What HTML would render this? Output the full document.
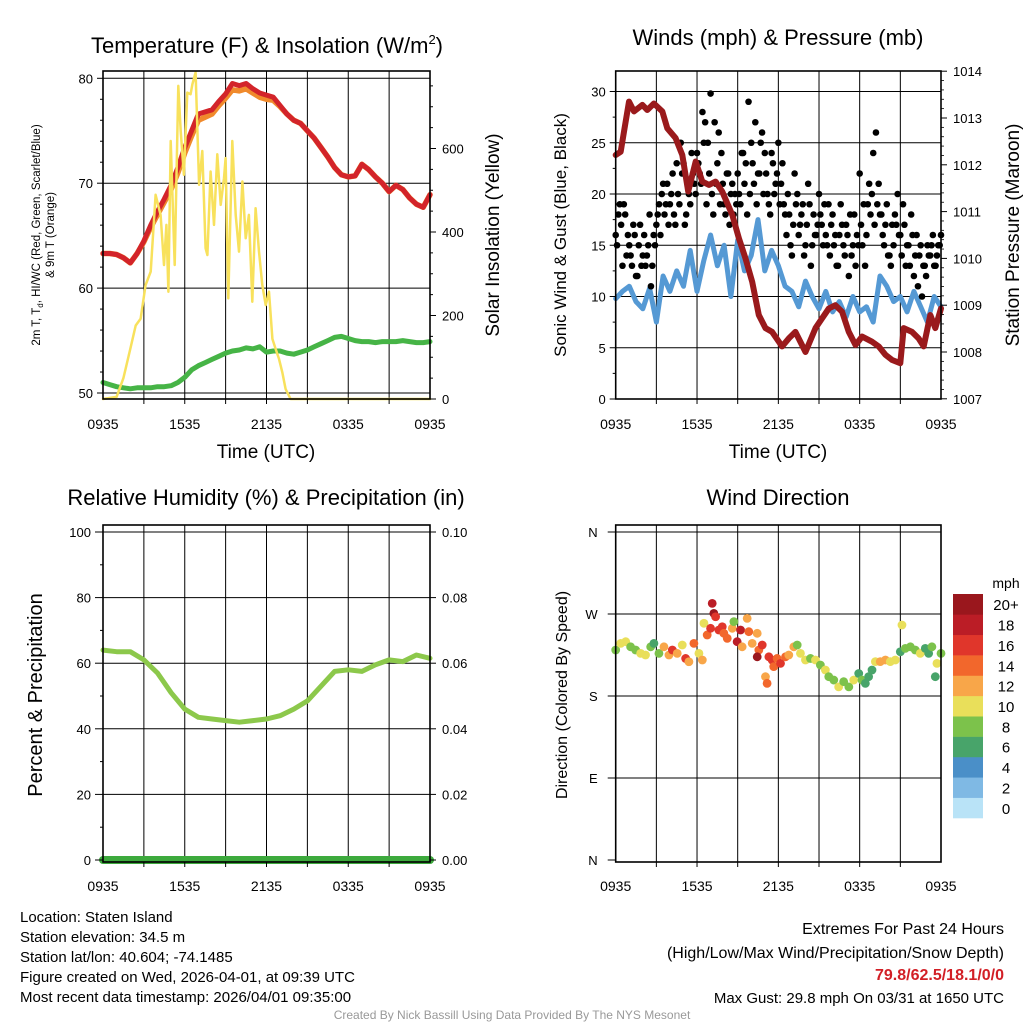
<!DOCTYPE html>
<html><head><meta charset="utf-8"><style>
html,body{margin:0;padding:0;background:#fff;}
svg{display:block;font-family:"Liberation Sans",Arial,sans-serif;}
</style></head><body>
<svg id="chart" width="1024" height="1024" viewBox="0 0 1024 1024" xmlns="http://www.w3.org/2000/svg">
<g id="grid"></g><g id="marks"></g><g id="axes"></g>
<g id="texts" font-size="13" fill="#000">
<text x="267" y="53" font-size="22" text-anchor="middle">Temperature (F) &amp; Insolation (W/m<tspan font-size="13" dy="-9">2</tspan><tspan dy="9">)</tspan></text>
<text x="778" y="45" font-size="22" text-anchor="middle">Winds (mph) &amp; Pressure (mb)</text>
<text x="266" y="505" font-size="22" text-anchor="middle">Relative Humidity (%) &amp; Precipitation (in)</text>
<text x="778" y="505" font-size="22" text-anchor="middle">Wind Direction</text>
<text transform="translate(40,235) rotate(-90)" font-size="11.5" text-anchor="middle">2m T, T<tspan font-size="8" dy="3">d</tspan><tspan dy="-3">, HI/WC (Red, Green, Scarlet/Blue)</tspan></text>
<text transform="translate(54,235) rotate(-90)" font-size="11.5" text-anchor="middle">&amp; 9m T (Orange)</text>
<text transform="translate(499,235) rotate(-90)" font-size="19" text-anchor="middle">Solar Insolation (Yellow)</text>
<text transform="translate(566,235) rotate(-90)" font-size="17" text-anchor="middle">Sonic Wind &amp; Gust (Blue, Black)</text>
<text transform="translate(1019,235) rotate(-90)" font-size="19" text-anchor="middle">Station Pressure (Maroon)</text>
<text transform="translate(42,695) rotate(-90)" font-size="20" text-anchor="middle">Percent &amp; Precipitation</text>
<text transform="translate(567,695) rotate(-90)" font-size="16" text-anchor="middle">Direction (Colored By Speed)</text>
<text x="266" y="458" font-size="19" text-anchor="middle">Time (UTC)</text>
<text x="778" y="458" font-size="19" text-anchor="middle">Time (UTC)</text>
<text x="1006" y="588" font-size="14" text-anchor="middle">mph</text>
<g font-size="15">
<text x="20" y="922">Location: Staten Island</text>
<text x="20" y="942">Station elevation: 34.5 m</text>
<text x="20" y="962">Station lat/lon: 40.604; -74.1485</text>
<text x="20" y="982">Figure created on Wed, 2026-04-01, at 09:39 UTC</text>
<text x="20" y="1002">Most recent data timestamp: 2026/04/01 09:35:00</text>
</g>
<g font-size="16" text-anchor="end">
<text x="1004" y="934">Extremes For Past 24 Hours</text>
<text x="1004" y="958">(High/Low/Max Wind/Precipitation/Snow Depth)</text>
<text x="1004" y="980" fill="#d21f26" font-weight="bold">79.8/62.5/18.1/0/0</text>
<text x="1004" y="1003" font-size="15">Max Gust: 29.8 mph On 03/31 at 1650 UTC</text>
</g>
<text x="512" y="1019" font-size="12" fill="#999" text-anchor="middle">Created By Nick Bassill Using Data Provided By The NYS Mesonet</text>
</g>
</svg>
<script>
// ---- data ----
const timeLabels = ["0935","1535","2135","0335","0935"];
const tempF = [63.3,63.3,63.2,62.9,62.4,63.3,64.5,66.0,67.3,68.5,69.8,71.5,73.4,75.0,76.6,76.8,77.0,77.8,78.5,79.5,79.3,79.5,79.0,78.6,78.4,78.2,77.4,76.6,76.0,75.7,75.0,74.3,73.4,72.5,71.5,70.8,70.6,70.7,71.8,71.3,70.6,70.0,69.2,69.8,69.4,68.6,68.0,67.7,68.9];
const temp9mF = [63.3,63.3,63.2,62.9,62.4,63.3,64.4,65.8,67.0,68.2,69.4,71.0,72.9,74.5,76.0,76.3,76.6,77.4,78.1,78.9,78.8,79.0,78.6,78.2,78.0,77.9,77.3,76.6,76.0,75.7,75.0,74.3,73.4,72.5,71.5,70.8,70.6,70.7,71.8,71.3,70.6,70.0,69.2,69.8,69.4,68.6,68.0,67.7,68.9];
const dewF = [51.0,50.8,50.6,50.5,50.4,50.5,50.5,50.5,50.6,50.6,50.7,51.0,51.5,52.2,52.6,52.9,53.2,53.5,53.8,54.0,54.1,54.3,54.2,54.4,53.9,54.0,54.0,53.8,53.7,53.9,54.1,54.4,54.7,55.0,55.3,55.4,55.2,55.0,54.9,54.9,54.8,54.9,54.9,54.9,55.0,54.9,54.8,54.8,54.9];
const solarHours = [0,1.0,1.5,2.0,2.4,2.76,3.13,3.5,3.86,4.23,4.48,4.65,4.8,4.97,5.26,5.53,5.7,5.94,6.19,6.43,6.56,6.8,7.05,7.29,7.53,7.66,7.9,8.15,8.39,8.64,8.88,9.0,9.2,9.49,9.74,9.98,10.23,10.47,10.71,10.96,11.2,11.45,11.69,11.94,12.18,12.43,12.67,12.92,13.16,13.4,13.77,24];
const solarW = [0,5,50,120,176,192,273,305,489,441,321,417,257,618,321,750,642,537,734,730,754,782,513,594,361,345,545,417,586,465,529,577,241,618,441,353,521,385,441,233,457,353,273,225,257,144,120,96,64,24,0,0];
const windMph = [9.8,10.5,11.0,9.5,8.8,10.8,7.5,12.0,10.5,12.5,11.0,14.5,10.5,13.5,16.0,13.0,15.0,10.0,15.5,12.5,14.0,17.5,12.5,14.5,13.0,11.0,10.5,9.0,11.5,10.0,8.8,10.5,8.5,9.5,8.0,10.0,8.5,9.0,7.5,12.0,11.0,9.5,10.0,8.5,10.5,9.0,7.5,10.0,9.0];
const gustMph = [16,18,17,19,14,15,13,16,12,17,14,13,15,11,16,
17,19,20,18,21,19,22,17,20,25,23,18,20,24,21,
24,22,28,27,25,29.8,18,21,26,24,19,22,17,21,20,
22,19,24,23,29,25,21,19,22,26,24,20,18,23,21,
25,21,19,16,18,14,22,20,17,19,15,21,13,18,16,
20,17,19,15,14,18,16,13,19,15,17,12,14,18,16,
22,15,13,19,18,24,26,21,18,15,19,14,17,18,20,
16,19,13,15,18,12,16,14,10,13,15,14,16,13,15,16];
const gustMphB = [15,19,13,18,16,14,17,12,15,13,16,14,18,13,15,
18,16,21,19,17,20,18,23,19,22,17,21,19,22,20,
23,21,25,19,22,20,27,23,19,21,18,22,20,18,19,
20,24,21,18,20,23,27,22,25,20,22,19,24,20,22,
19,23,18,20,15,17,19,16,18,14,17,19,15,16,17,
18,15,16,19,17,15,13,16,17,14,16,18,15,13,15,
17,19,16,21,20,17,19,18,16,17,14,13,15,17,16,
14,17,15,13,16,14,11,15,13,12,14,15,13,14,15];
const pressHours = [0,0.37,0.61,0.98,1.35,1.97,2.33,2.82,3.44,3.81,4.42,4.91,5.35,5.9,6.39,6.88,7.37,7.86,8.6,9.09,9.58,10.07,10.56,11.05,11.54,12.28,12.77,13.26,14.0,14.74,15.23,15.72,16.21,16.7,17.2,17.69,18.18,18.91,19.4,19.9,20.39,21.0,21.25,21.86,22.35,22.72,23.21,23.58,24];
const pressMb = [1012.21,1012.28,1012.71,1013.35,1013.14,1013.28,1013.17,1013.31,1013.14,1012.78,1012.57,1012.21,1011.43,1012.07,1011.64,1011.57,1011.64,1011.43,1010.93,1010.43,1010.0,1009.5,1008.79,1008.51,1008.43,1008.12,1008.29,1008.43,1008.0,1008.51,1008.72,1008.93,1009.0,1008.86,1008.43,1008.15,1008.33,1008.22,1008.12,1007.94,1007.83,1007.76,1008.51,1008.43,1008.29,1008.12,1008.79,1008.51,1008.93];
const rhPct = [64,63.5,63.5,61,57,51,46,43.5,43,42.5,42,42.5,43,44,46,48.5,53,57.5,58,57.5,59.5,61,60.5,62.5,61.5];
const precipIn = [0,0,0,0,0,0,0,0,0,0,0,0,0,0,0,0,0,0,0,0,0,0,0,0,0];
const dirHours = [0,0.37,0.74,1.1,1.47,1.84,2.2,2.58,2.82,3.19,3.56,3.93,4.18,4.54,4.91,5.16,5.4,5.77,6.14,6.39,6.51,6.75,7.0,7.12,7.24,7.37,7.61,7.86,7.98,8.23,8.6,8.72,8.96,9.21,9.33,9.7,9.82,10.07,10.44,10.56,10.81,10.44,11.05,11.17,11.3,11.54,11.66,11.91,12.16,12.53,12.77,13.14,13.39,13.63,14.0,14.37,14.74,15.1,15.47,15.72,16.09,16.45,16.82,17.2,17.56,17.93,18.17,18.42,18.66,18.91,19.16,19.52,19.9,20.26,20.63,21.0,21.12,21.37,21.74,22.1,22.47,22.84,23.09,23.33,23.58,23.7,24];
const dirDeg = [230.5,237.8,239.6,234,230.5,226.8,225,234,237.8,226.8,234,225,230.5,226.8,236,221.2,217.6,237.8,226.8,219.5,259.8,247,254.3,281.7,270.7,267,252.4,256,248.8,243.3,254.3,261.6,239.6,252.4,234,265.2,250.6,237.8,248.8,230.5,236,223,201.2,193.9,223,219.5,212.2,221.2,215.8,223,225,234,236,226.8,219.5,221.2,219.5,214,208.5,201.2,197.5,190,195.7,190,197.5,204.7,197.5,193.9,201.2,208.5,217.7,217.7,219.5,217.7,219.5,228.6,257.9,232.3,234,230.5,226.8,232.3,226.8,234,201.2,215.8,226.8];
const dirSpeed = [9,10,10,9,8,10,10,8,7,9,12,13,16,13,10,17,12,15,10,12,11,15,17,18,20,16,17,16,15,14,12,8,19,18,12,12,14,13,12,14,17,20,12,14,16,17,14,15,16,14,12,12,8,10,10,9,10,9,10,8,9,10,8,9,10,7,8,6,7,6,10,12,12,10,10,7,10,8,8,9,10,6,7,8,7,10,8];
const speedBins = ["0","2","4","6","8","10","12","14","16","18","20+"];
const binColors = ["#b9e3f7","#7fb9e4","#4a8fc8","#48a46a","#7cc24b","#e9df5a","#f8a649","#f2672c","#e0362b","#bb1d26","#9a171d"];

// ---- scales ----
const NS="http://www.w3.org/2000/svg";
const P1={x0:103,x1:430,top:71,bot:399}, P2={x0:615.7,x1:941,top:71,bot:399};
const P3={x0:103,x1:430,top:525,bot:862}, P4={x0:615.7,x1:941,top:525,bot:862};
const xs=(P,h)=>P.x0+h/24*(P.x1-P.x0);
const yT=v=>393-(v-50)*10.49, yS=v=>399-v/200*83.5;
const yW=v=>399-v*10.25, yP=v=>352-(v-1008)*46.8;
const yR=v=>860-v*3.28, yPr=v=>860-v/0.1*328;
const yD=d=>860-d*82/90;
const G=document.getElementById('grid'), M=document.getElementById('marks'), A=document.getElementById('axes');
function mk(parent,tag,attrs){const e=document.createElementNS(NS,tag);for(const k in attrs)e.setAttribute(k,attrs[k]);parent.appendChild(e);return e;}
function line(parent,x1,y1,x2,y2,stroke,w){return mk(parent,'line',{x1,y1,x2,y2,stroke,'stroke-width':w});}
function txt(parent,x,y,s,anchor,size){const t=mk(parent,'text',{x,y,'text-anchor':anchor,'font-size':size||13});t.textContent=s;return t;}
function path(parent,xsArr,ysArr,stroke,w){let d='';for(let i=0;i<xsArr.length;i++)d+=(i?'L':'M')+xsArr[i].toFixed(1)+','+ysArr[i].toFixed(1);return mk(parent,'path',{d,fill:'none',stroke,'stroke-width':w,'stroke-linejoin':'round','stroke-linecap':'round'});}
const idxH=(arr)=>arr.map((_,i)=>i*24/(arr.length-1));

function frame(P,name,hlines,labOff){
  for(let k=1;k<8;k++){const x=xs(P,k*3);const l=line(G,x,P.top,x,P.bot,'#000',1);
    
    
    line(A,x,P.bot,x,P.bot+5,'#000',1);}
  hlines.forEach(y=>{const l=line(G,P.x0,y,P.x1,y,'#000',1);
    
    });
  const r=mk(A,'rect',{x:P.x0,y:P.top,width:P.x1-P.x0,height:P.bot-P.top,fill:'none',stroke:'#000','stroke-width':1.6});
  
  
  timeLabels.forEach((s,i)=>{const t=txt(A,xs(P,i*6),P.bot+labOff,s,'middle',14);
    
    });
}
// Panel 1
const tTicks=[50,60,70,80], sTicks=[0,200,400,600];
frame(P1,'temp',tTicks.map(yT),30);
tTicks.forEach(v=>{line(A,P1.x0-6,yT(v),P1.x0,yT(v),'#000',1);const t=txt(A,P1.x0-10,yT(v)+5,String(v),'end');
  
  });
for(let v=52;v<=80;v+=2){if(v%10)line(A,P1.x0-3,yT(v),P1.x0,yT(v),'#000',1);}
sTicks.forEach(v=>{line(A,P1.x1,yS(v),P1.x1+6,yS(v),'#000',1);const t=txt(A,P1.x1+12,yS(v)+5,String(v),'start');
  
  });
for(let v=50;v<=750;v+=50){if(v%200)line(A,P1.x1,yS(v),P1.x1+3,yS(v),'#000',1);}
let p=path(M,idxH(temp9mF).map(h=>xs(P1,h)),temp9mF.map(yT),'#f08a2c',5.5);

p=path(M,idxH(tempF).map(h=>xs(P1,h)),tempF.map(yT),'#d3242a',5);

p=path(M,idxH(dewF).map(h=>xs(P1,h)),dewF.map(yT),'#46b446',5);

p=path(M,solarHours.map(h=>xs(P1,h)),solarW.map(yS),'#f8e15c',2.5);


// Panel 2
const wTicks=[0,5,10,15,20,25,30], pTicks=[1007,1008,1009,1010,1011,1012,1013,1014];
frame(P2,'wind',wTicks.slice(1).map(yW),30);
wTicks.forEach(v=>{line(A,P2.x0-6,yW(v),P2.x0,yW(v),'#000',1);const t=txt(A,P2.x0-10,yW(v)+5,String(v),'end');
  
  });
for(let v=2.5;v<31;v+=5)line(A,P2.x0-3,yW(v),P2.x0,yW(v),'#000',1);
pTicks.forEach(v=>{line(A,P2.x1,yP(v),P2.x1+6,yP(v),'#000',1);const t=txt(A,P2.x1+12,yP(v)+5,String(v),'start');
  
  });
for(let v=1007.2;v<1014;v+=0.2){if(Math.abs(v-Math.round(v))>0.05)line(A,P2.x1,yP(v),P2.x1+3,yP(v),'#000',0.8);}
p=path(M,idxH(windMph).map(h=>xs(P2,h)),windMph.map(yW),'#5599d4',5);

const gh=idxH(gustMph);
gustMph.forEach((v,i)=>{const c=mk(M,'circle',{cx:xs(P2,gh[i]),cy:yW(v),r:3.3,fill:'#000'});
  
  });
const ghB=gustMphB.map((_,i)=>(i+0.5)*24/gustMphB.length);
gustMphB.forEach((v,i)=>{const c=mk(M,'circle',{cx:xs(P2,ghB[i]),cy:yW(v),r:3.3,fill:'#000'});
  
  });
p=path(M,pressHours.map(h=>xs(P2,h)),pressMb.map(yP),'#9a1a1c',6);


// Panel 3
const rTicks=[0,20,40,60,80,100], prTicks=[0,0.02,0.04,0.06,0.08,0.10];
frame(P3,'rh',rTicks.slice(1).map(yR),29);
rTicks.forEach(v=>{line(A,P3.x0-8,yR(v),P3.x0,yR(v),'#000',1);const t=txt(A,P3.x0-12,yR(v)+5,String(v),'end');
  
  });
for(let v=10;v<100;v+=20)line(A,P3.x0-3,yR(v),P3.x0,yR(v),'#000',1);
prTicks.forEach(v=>{line(A,P3.x1,yPr(v),P3.x1+6,yPr(v),'#000',1);const t=txt(A,P3.x1+12,yPr(v)+5,v.toFixed(2),'start');
  
  });
p=path(M,idxH(rhPct).map(h=>xs(P3,h)),rhPct.map(yR),'#8cc84b',5);

p=path(M,idxH(precipIn).map(h=>xs(P3,h)),precipIn.map(yPr),'#3daa3d',8);


// Panel 4
const dTicks=[0,90,180,270,360], dLabels=["N","E","S","W","N"];
frame(P4,'direction',dTicks.slice(1).map(yD),29);
dTicks.forEach((v,i)=>{line(A,P4.x0-8,yD(v),P4.x0,yD(v),'#000',1);const t=txt(A,P4.x0-18,yD(v)+5,dLabels[i],'end');
  
  });
const binOf=s=>Math.min(10,Math.floor(s/2));
dirDeg.forEach((d,i)=>{const c=mk(M,'circle',{cx:xs(P4,dirHours[i]),cy:yD(d),r:4.4,fill:binColors[binOf(dirSpeed[i])]});
  
  });
// colorbar
const cbX=953,cbTop=594,cbH=224/11;
speedBins.forEach((s,i)=>{const k=10-i;const y=cbTop+k*cbH;
  const r=mk(A,'rect',{x:cbX,y:y,width:30,height:cbH+0.3,fill:binColors[i]});
  
  
  const t=txt(A,1006,y+cbH/2+6,s,'middle',15);
  
  });
</script>
</body></html>
